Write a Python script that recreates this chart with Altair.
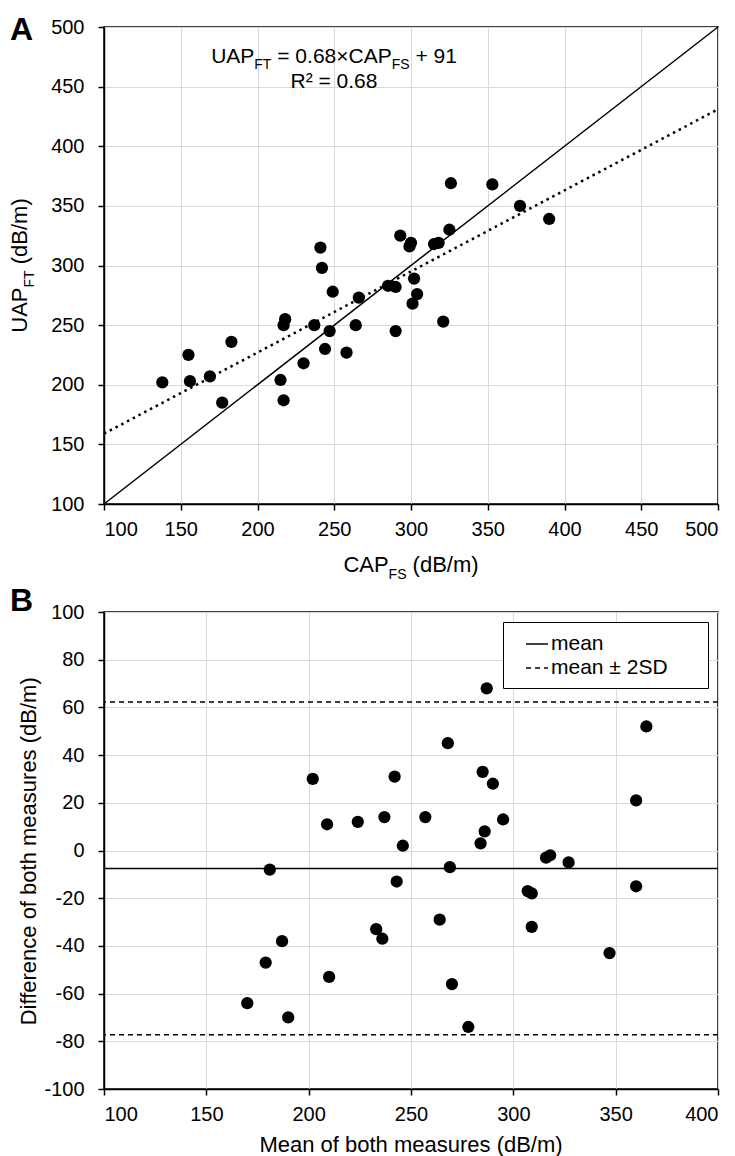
## Import libraries
import pandas as pd
import altair as alt

## Data (dB/m)
# Panel A: CAP by FibroScan vs UAP by FibroTouch
cap_fs = [138, 155, 156, 169, 177, 183, 215, 217, 217, 218, 230, 237, 241,
          242, 244, 247, 249, 258, 264, 266, 285, 290, 290, 293, 299, 300,
          301, 302, 304, 315, 318, 321, 325, 326, 353, 371, 390]
uap_ft = [202, 225, 203, 207, 185, 236, 204, 187, 250, 255, 218, 250, 315,
          298, 230, 245, 278, 227, 250, 273, 283, 282, 245, 325, 316, 319,
          268, 289, 276, 318, 319, 253, 330, 369, 368, 350, 339]

# identity line and fitted line (UAP = 0.68*CAP + 91), end points
ident_x = [100, 500]
ident_y = [100, 500]
fit_x = [100, 500]
fit_y = [159, 431]

# Panel B: Bland-Altman
ba_mean = [170, 179, 181, 187, 190, 202, 209, 210, 224, 233, 236, 237, 242,
           243, 246, 257, 264, 268, 269, 270, 278, 284, 285, 286, 287, 290,
           295, 307, 309, 309, 316, 318, 327, 347, 360, 360, 365]
ba_diff = [-64, -47, -8, -38, -70, 30, 11, -53, 12, -33, -37, 14, 31,
           -13, 2, 14, -29, 45, -7, -56, -74, 3, 33, 8, 68, 28,
           13, -17, -18, -32, -3, -2, -5, -43, 21, -15, 52]
line_y = [-7.5, 62.3, -77.3]
line_kind = ["mean", "mean ± 2SD", "mean ± 2SD"]

# tick values
ticks_a = [100, 150, 200, 250, 300, 350, 400, 450, 500]
ticks_bx = [100, 150, 200, 250, 300, 350, 400]
ticks_by = [-100, -80, -60, -40, -20, 0, 20, 40, 60, 80, 100]

FONT = "Liberation Sans"

## Helper: text with subscripts drawn as several text marks
# rough advance widths (em) for Arial / Liberation Sans
ADV = {" ": .278, "=": .584, "+": .584, "×": .584, "±": .584, ".": .278,
       "(": .333, ")": .333, "/": .278, "²": .333, "A": .667, "B": .667,
       "C": .722, "D": .722, "F": .611, "M": .833, "P": .667, "R": .722,
       "S": .667, "T": .611, "U": .722, "m": .833, "f": .278, "t": .278,
       "r": .333, "s": .5, "i": .222}


def text_w(s, size):
    return sum(ADV.get(c, .556) for c in s) * size


def runs(parts, x, y, size=21, sub=14, rotate=False, center=True, weight="normal"):
    fs_of = [sub if s else size for _, s in parts]
    total = sum(text_w(t, f) for (t, _), f in zip(parts, fs_of))
    cursor = -total / 2 if center else 0
    out = []
    for (t, s), fs in zip(parts, fs_of):
        lead = len(t) - len(t.lstrip(" "))
        off = cursor + text_w(" " * lead, fs)
        drop = 0.3 * size if s else 0
        px, py = (x + drop, y - off) if rotate else (x + off, y + drop)
        out.append(
            alt.Chart(pd.DataFrame({"t": [t.strip()]})).mark_text(
                align="left", baseline="alphabetic", fontSize=fs, font=FONT,
                fontWeight=weight, angle=270 if rotate else 0, color="black"
            ).encode(x=alt.value(px), y=alt.value(py), text="t:N")
        )
        cursor += text_w(t, fs)
    return out


## Panel A
WA, HA = 614, 477
df_a = pd.DataFrame({"cap": cap_fs, "uap": uap_ft})
xa = alt.Scale(domain=[100, 500], nice=False)
ya = alt.Scale(domain=[100, 500], nice=False)

points_a = alt.Chart(df_a).mark_circle(size=150, color="black", opacity=1).encode(
    x=alt.X("cap:Q", scale=xa, axis=alt.Axis(values=ticks_a, labelPadding=9)),
    y=alt.Y("uap:Q", scale=ya, axis=alt.Axis(values=ticks_a, labelPadding=14)),
)
ident = alt.Chart(pd.DataFrame({"x": ident_x, "y": ident_y})).mark_line(
    color="black", strokeWidth=1.5
).encode(x=alt.X("x:Q", scale=xa), y=alt.Y("y:Q", scale=ya))
fit = alt.Chart(pd.DataFrame({"x": fit_x, "y": fit_y})).mark_line(
    color="black", strokeWidth=2.5, strokeDash=[2.5, 4]
).encode(x=alt.X("x:Q", scale=xa), y=alt.Y("y:Q", scale=ya))

texts_a = (
    runs([("A", False)], -94, 12.6, size=32, center=False, weight="bold")
    + runs([("UAP", False), ("FT", True), (" = 0.68×CAP", False), ("FS", True), (" + 91", False)], 230, 35.6)
    + runs([("R² = 0.68", False)], 230, 60.6)
    + runs([("CAP", False), ("FS", True), (" (dB/m)", False)], WA / 2, 545, size=22)
    + runs([("UAP", False), ("FT", True), (" (dB/m)", False)], -77, HA / 2, size=22, rotate=True)
)

chart_a = alt.layer(ident, fit, points_a, *texts_a).properties(width=WA, height=HA)

## Panel B
WB, HB = 614, 477
df_b = pd.DataFrame({"m": ba_mean, "d": ba_diff})
df_lines = pd.DataFrame({"y": line_y, "kind": line_kind})
xb = alt.Scale(domain=[100, 400], nice=False)
yb = alt.Scale(domain=[-100, 100], nice=False)

rules_b = alt.Chart(df_lines).mark_rule(color="black", strokeWidth=1.5).encode(
    y=alt.Y("y:Q", scale=yb),
    strokeDash=alt.StrokeDash(
        "kind:N",
        scale=alt.Scale(domain=["mean", "mean ± 2SD"], range=[[1, 0], [5, 4]]),
        legend=alt.Legend(
            title=None, orient="top-right", offset=10, strokeColor="black",
            fillColor="white", padding=10, labelFontSize=21, labelFont=FONT,
            labelColor="black", symbolType="stroke", symbolStrokeWidth=1.5,
            symbolStrokeColor="black", symbolSize=480, rowPadding=2,
            labelOffset=2, symbolOffset=12, labelLimit=400,
            # blank braille cells (not trimmed as whitespace) widen the box
            labelExpr="datum.label + '" + "\u2800" * 2 + "'",
        ),
    ),
)
points_b = alt.Chart(df_b).mark_circle(size=150, color="black", opacity=1).encode(
    x=alt.X("m:Q", scale=xb, axis=alt.Axis(values=ticks_bx, labelPadding=9)),
    y=alt.Y("d:Q", scale=yb, axis=alt.Axis(values=ticks_by, labelPadding=14,
                                            labelExpr="toString(datum.value)")),
)

texts_b = (
    runs([("B", False)], -94, -1, size=32, center=False, weight="bold")
    + runs([("Mean of both measures (dB/m)", False)], WB / 2, 540, size=22)
    + runs([("Difference of both measures (dB/m)", False)], -68, HB / 2, size=22, rotate=True)
)

chart_b = alt.layer(points_b, rules_b, *texts_b).properties(width=WB, height=HB)

## Combine
chart = alt.vconcat(chart_a, chart_b, spacing=1).resolve_scale(
    strokeDash="independent"
).resolve_legend(
    strokeDash="independent"
).properties(
    padding={"top": 4, "left": 0, "right": 0, "bottom": 0}
).configure_view(
    stroke="black", strokeWidth=1.5
).configure_axis(
    title=None, domainColor="black", domainWidth=1.5, tickColor="black",
    tickWidth=1.5, tickSize=6, labelFontSize=20, labelFont=FONT,
    labelColor="black", gridColor="#d9d9d9", gridWidth=1,
)

chart.save("out.html", embed_options={"renderer": "svg", "actions": False})
